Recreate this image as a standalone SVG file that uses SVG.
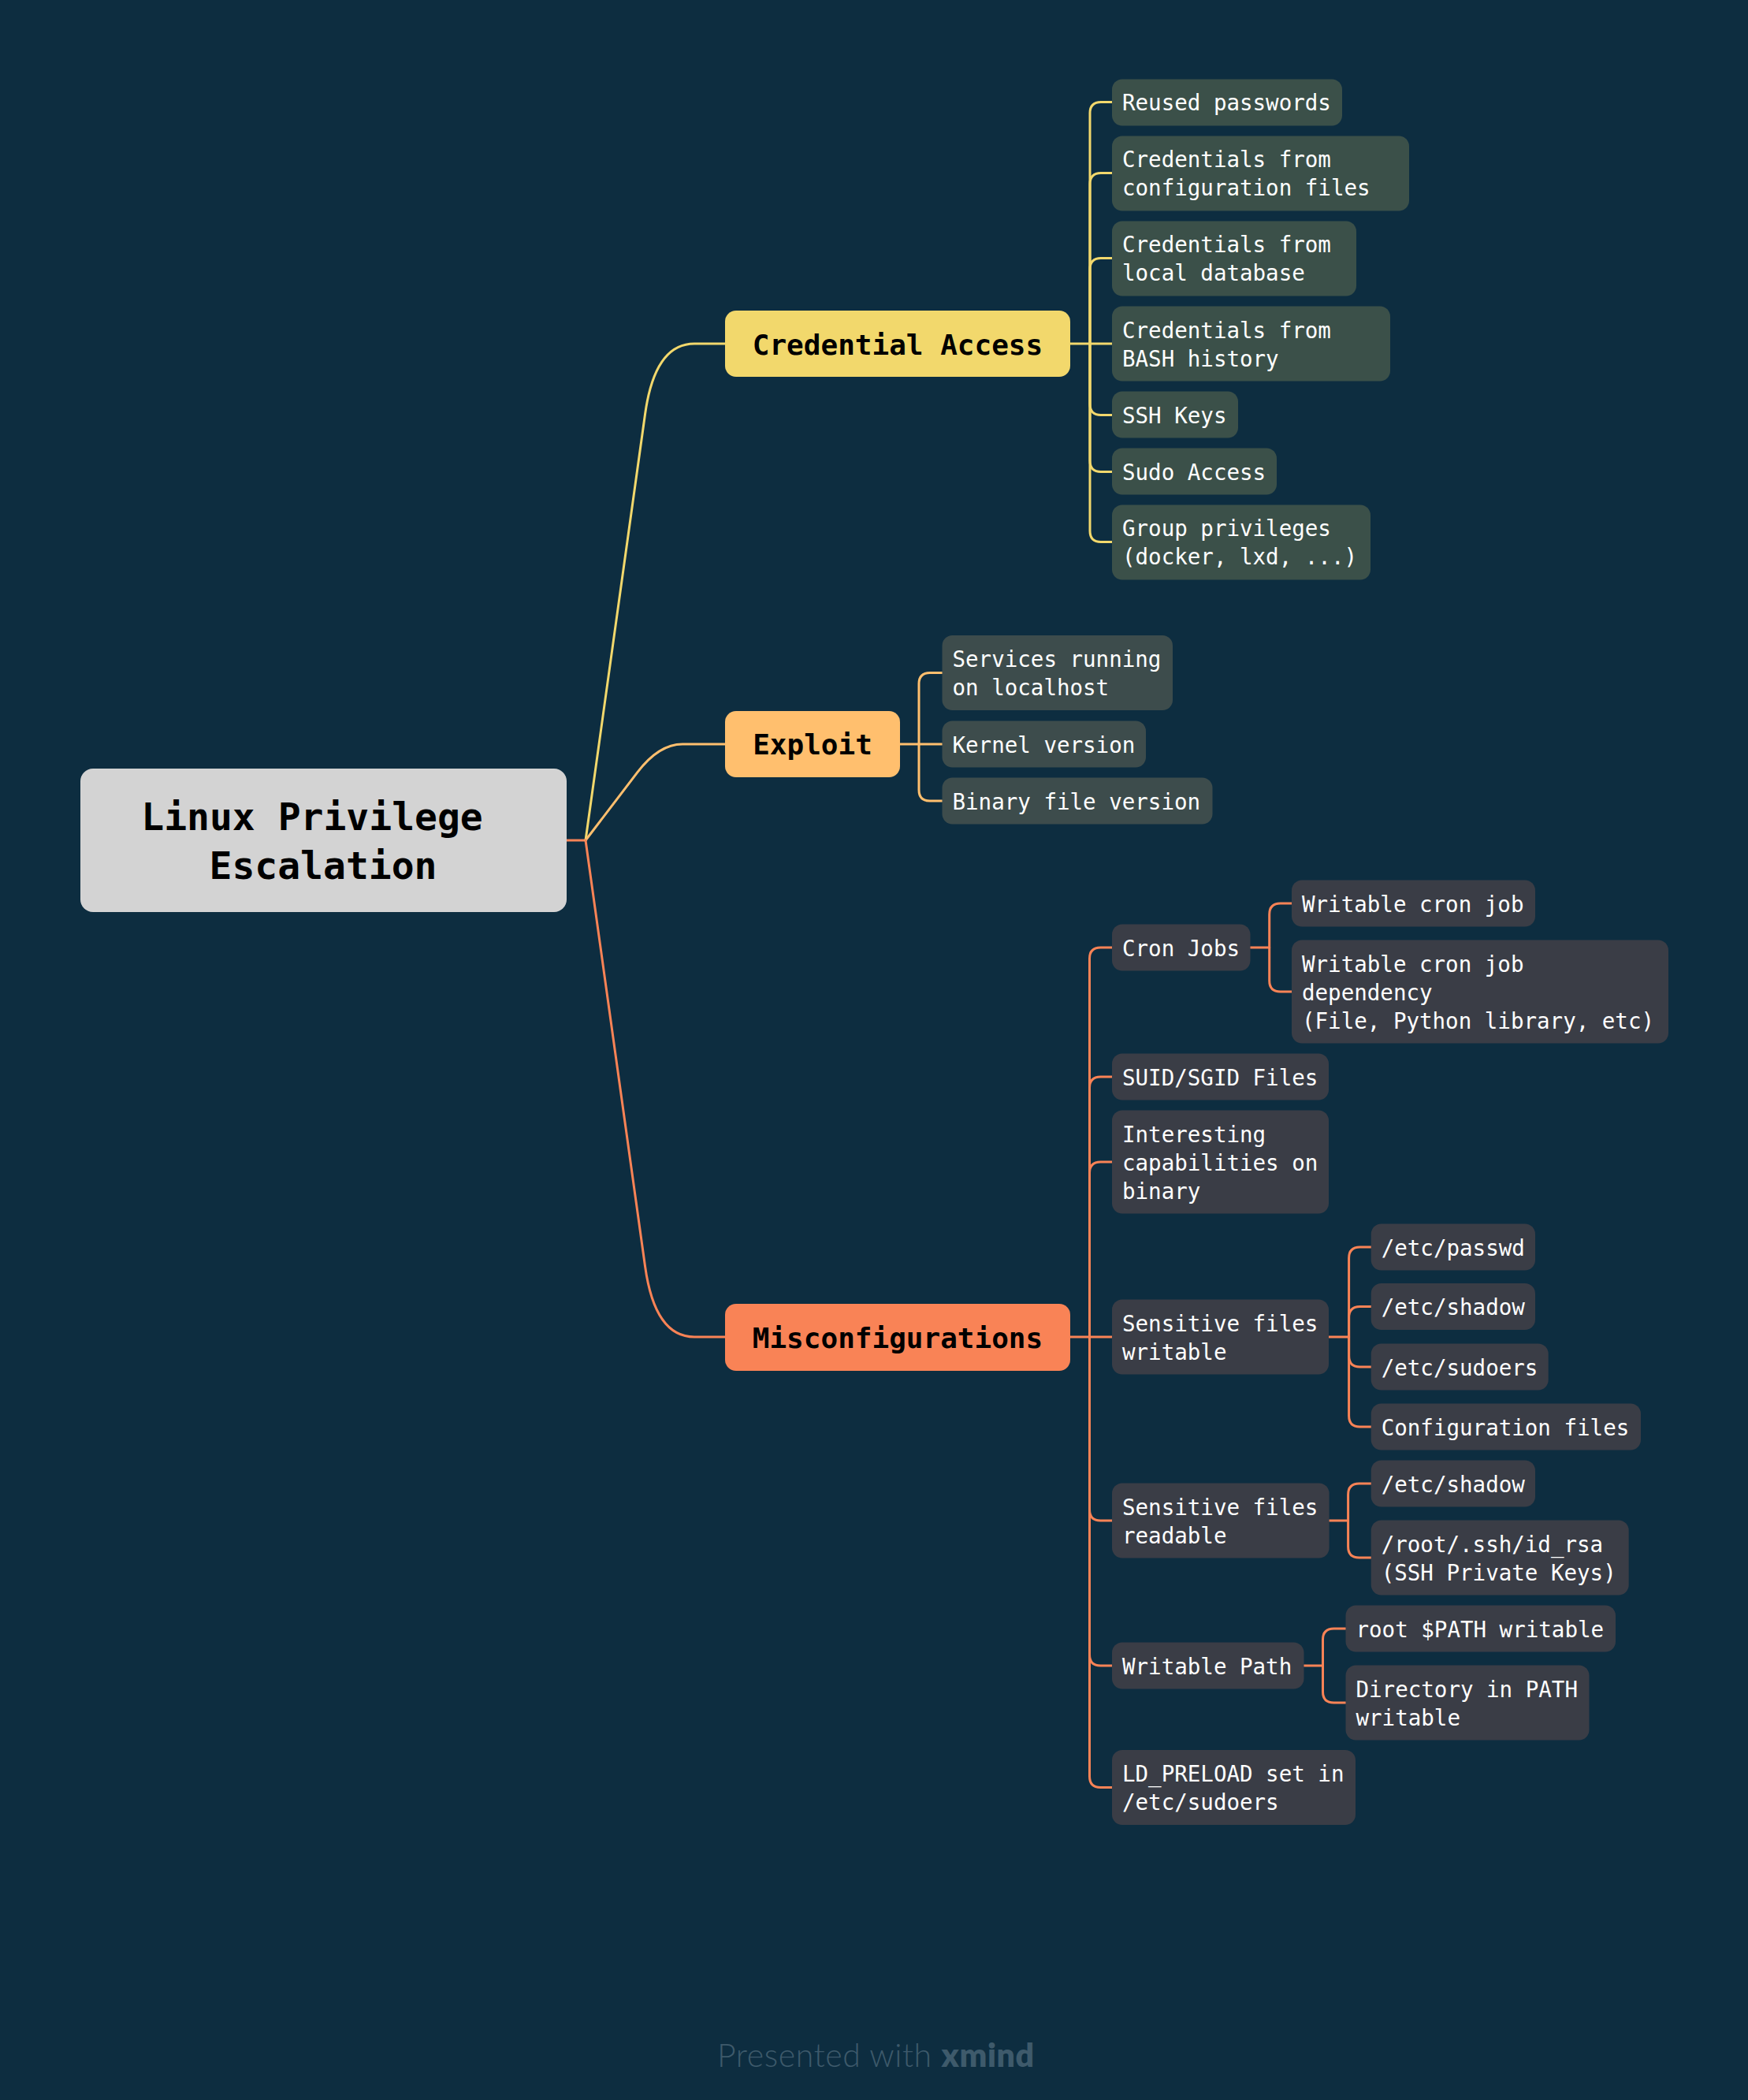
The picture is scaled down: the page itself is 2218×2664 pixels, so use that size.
<svg xmlns="http://www.w3.org/2000/svg" width="2218" height="2664" viewBox="0 0 2218 2664">
<style>
.bg{fill:#0D2D40}
.c{fill:none;stroke-width:3;stroke-linecap:round;stroke-linejoin:round}
.y{stroke:#F2D86C}.o{stroke:#FFBF6E}.r{stroke:#F98356}
.t{font-family:"DejaVu Sans Mono","Liberation Mono",monospace;font-size:27.5px;fill:#FFFFFF}
.m{font-family:"DejaVu Sans Mono","Liberation Mono",monospace;font-weight:bold;fill:#000000;text-anchor:middle}
.cy{fill:#3B5049}.co{fill:#3D4C4C}.cr{fill:#3A3D46}
</style>
<rect class="bg" x="0" y="0" width="2218" height="2664"/>
<g id="connectors">
<path class="c r" d="M719 1066 H743"/>
<path class="c y" d="M743 1066 L818.6 525 Q831 436 881 436 L920 436"/>
<path class="c o" d="M743 1066 L808.7 979.9 Q836 944 866 944 L920 944"/>
<path class="c r" d="M743 1066 L818.6 1606.8 Q831 1696 881 1696 L920 1696"/>
<g class="c y">
<path d="M1358 436 H1411"/>
<path d="M1383 436 V143.5 Q1383 129.5 1397 129.5 H1411"/>
<path d="M1383 436 V233.5 Q1383 219.5 1397 219.5 H1411"/>
<path d="M1383 436 V341.5 Q1383 327.5 1397 327.5 H1411"/>
<path d="M1383 436 V512.5 Q1383 526.5 1397 526.5 H1411"/>
<path d="M1383 436 V584.5 Q1383 598.5 1397 598.5 H1411"/>
<path d="M1383 436 V673.5 Q1383 687.5 1397 687.5 H1411"/>
</g>
<g class="c o">
<path d="M1142 944 H1195.5"/>
<path d="M1166 944 V867.5 Q1166 853.5 1180 853.5 H1195.5"/>
<path d="M1166 944 V1002 Q1166 1016 1180 1016 H1195.5"/>
</g>
<g class="c r">
<path d="M1358 1696 H1411"/>
<path d="M1382.5 1696 V1216 Q1382.5 1202 1396.5 1202 H1411"/>
<path d="M1382.5 1696 V1380 Q1382.5 1366 1396.5 1366 H1411"/>
<path d="M1382.5 1696 V1488 Q1382.5 1474 1396.5 1474 H1411"/>
<path d="M1382.5 1696 V1915 Q1382.5 1929 1396.5 1929 H1411"/>
<path d="M1382.5 1696 V2099 Q1382.5 2113 1396.5 2113 H1411"/>
<path d="M1382.5 1696 V2253.5 Q1382.5 2267.5 1396.5 2267.5 H1411"/>
<path d="M1586.5 1202 H1610.7"/>
<path d="M1610.7 1202 V1160 Q1610.7 1146 1624.7 1146 H1639"/>
<path d="M1610.7 1202 V1244 Q1610.7 1258 1624.7 1258 H1639"/>
<path d="M1686 1696 H1711.6"/>
<path d="M1711.6 1696 V1596 Q1711.6 1582 1725.6 1582 H1739.7"/>
<path d="M1711.6 1696 V1671.5 Q1711.6 1657.5 1725.6 1657.5 H1739.7"/>
<path d="M1711.6 1696 V1720 Q1711.6 1734 1725.6 1734 H1739.7"/>
<path d="M1711.6 1696 V1796 Q1711.6 1810 1725.6 1810 H1739.7"/>
<path d="M1686.6 1929 H1710.6"/>
<path d="M1710.6 1929 V1896 Q1710.6 1882 1724.6 1882 H1739.7"/>
<path d="M1710.6 1929 V1962 Q1710.6 1976 1724.6 1976 H1739.7"/>
<path d="M1654.5 2113 H1678.5"/>
<path d="M1678.5 2113 V2080 Q1678.5 2066 1692.5 2066 H1707.5"/>
<path d="M1678.5 2113 V2146 Q1678.5 2160 1692.5 2160 H1707.5"/>
</g>
</g>
<g id="root">
<rect x="102" y="975" width="617" height="182" rx="16" fill="#D3D3D3"/>
<text class="m" font-size="48" x="396" y="1053">Linux Privilege</text>
<text class="m" font-size="48" x="410" y="1115">Escalation</text>
</g>
<g id="credential-access">
<rect x="920" y="394" width="438" height="84" rx="14" fill="#F2D86C"/>
<text class="m" font-size="36" x="1139" y="450">Credential Access</text>
</g>
<g id="exploit">
<rect x="920" y="902" width="222" height="84" rx="14" fill="#FFBF6E"/>
<text class="m" font-size="36" x="1031" y="957">Exploit</text>
</g>
<g id="misconfigurations">
<rect x="920" y="1654" width="438" height="85" rx="14" fill="#F98356"/>
<text class="m" font-size="36" x="1139" y="1710">Misconfigurations</text>
</g>
<g id="reused-passwords"><rect class="cy" x="1411" y="100.5" width="292" height="59" rx="13"/><text class="t" x="1424" y="140">Reused passwords</text></g>
<g id="cred-config"><rect class="cy" x="1411" y="172.5" width="377" height="95" rx="13"/><text class="t" x="1424" y="212">Credentials from</text><text class="t" x="1424" y="248">configuration files</text></g>
<g id="cred-localdb"><rect class="cy" x="1411" y="280.5" width="310" height="95" rx="13"/><text class="t" x="1424" y="320">Credentials from</text><text class="t" x="1424" y="356">local database</text></g>
<g id="cred-bash"><rect class="cy" x="1411" y="388.5" width="353" height="95" rx="13"/><text class="t" x="1424" y="428.5">Credentials from</text><text class="t" x="1424" y="464.5">BASH history</text></g>
<g id="ssh-keys"><rect class="cy" x="1411" y="496.5" width="160" height="59" rx="13"/><text class="t" x="1424" y="537">SSH Keys</text></g>
<g id="sudo-access"><rect class="cy" x="1411" y="568.5" width="209" height="59" rx="13"/><text class="t" x="1424" y="609">Sudo Access</text></g>
<g id="group-privileges"><rect class="cy" x="1411" y="640.5" width="328" height="95" rx="13"/><text class="t" x="1424" y="680">Group privileges</text><text class="t" x="1424" y="716">(docker, lxd, ...)</text></g>
<g id="services-localhost"><rect class="co" x="1195.5" y="806" width="292.5" height="95" rx="13"/><text class="t" x="1208.5" y="846">Services running</text><text class="t" x="1208.5" y="882">on localhost</text></g>
<g id="kernel-version"><rect class="co" x="1195.5" y="914.5" width="258.5" height="59" rx="13"/><text class="t" x="1208.5" y="954.5">Kernel version</text></g>
<g id="binary-version"><rect class="co" x="1195.5" y="986.5" width="343" height="59" rx="13"/><text class="t" x="1208.5" y="1026.5">Binary file version</text></g>
<g id="cron-jobs"><rect class="cr" x="1411" y="1172.5" width="175.5" height="59" rx="13"/><text class="t" x="1424" y="1212.5">Cron Jobs</text></g>
<g id="writable-cron-job"><rect class="cr" x="1639" y="1116.5" width="309" height="59" rx="13"/><text class="t" x="1652" y="1156.5">Writable cron job</text></g>
<g id="cron-dependency"><rect class="cr" x="1639" y="1192.5" width="478" height="131" rx="13"/><text class="t" x="1652" y="1232.5">Writable cron job</text><text class="t" x="1652" y="1268.5">dependency</text><text class="t" x="1652" y="1304.5">(File, Python library, etc)</text></g>
<g id="suid-sgid"><rect class="cr" x="1411" y="1336.5" width="275" height="59" rx="13"/><text class="t" x="1424" y="1376.5">SUID/SGID Files</text></g>
<g id="capabilities"><rect class="cr" x="1411" y="1408.5" width="275" height="131" rx="13"/><text class="t" x="1424" y="1448.5">Interesting</text><text class="t" x="1424" y="1484.5">capabilities on</text><text class="t" x="1424" y="1520.5">binary</text></g>
<g id="sensitive-writable"><rect class="cr" x="1411" y="1648.5" width="275" height="95" rx="13"/><text class="t" x="1424" y="1688.5">Sensitive files</text><text class="t" x="1424" y="1724.5">writable</text></g>
<g id="w-passwd"><rect class="cr" x="1739.7" y="1552.5" width="208.3" height="59" rx="13"/><text class="t" x="1752.7" y="1592.5">/etc/passwd</text></g>
<g id="w-shadow"><rect class="cr" x="1739.7" y="1628" width="208.3" height="59" rx="13"/><text class="t" x="1752.7" y="1668">/etc/shadow</text></g>
<g id="w-sudoers"><rect class="cr" x="1739.7" y="1704.5" width="225" height="59" rx="13"/><text class="t" x="1752.7" y="1744.5">/etc/sudoers</text></g>
<g id="w-config"><rect class="cr" x="1739.7" y="1780.5" width="342.3" height="59" rx="13"/><text class="t" x="1752.7" y="1820.5">Configuration files</text></g>
<g id="sensitive-readable"><rect class="cr" x="1411" y="1881.5" width="275.6" height="95" rx="13"/><text class="t" x="1424" y="1921.5">Sensitive files</text><text class="t" x="1424" y="1957.5">readable</text></g>
<g id="r-shadow"><rect class="cr" x="1739.7" y="1852.5" width="208.3" height="59" rx="13"/><text class="t" x="1752.7" y="1892.5">/etc/shadow</text></g>
<g id="r-idrsa"><rect class="cr" x="1739.7" y="1928.5" width="327" height="95" rx="13"/><text class="t" x="1752.7" y="1968.5">/root/.ssh/id_rsa</text><text class="t" x="1752.7" y="2004.5">(SSH Private Keys)</text></g>
<g id="writable-path"><rect class="cr" x="1411" y="2083.5" width="243.5" height="59" rx="13"/><text class="t" x="1424" y="2123.5">Writable Path</text></g>
<g id="root-path"><rect class="cr" x="1707.5" y="2036.5" width="342.5" height="59" rx="13"/><text class="t" x="1720.5" y="2076.5">root $PATH writable</text></g>
<g id="dir-in-path"><rect class="cr" x="1707.5" y="2112.5" width="309" height="95" rx="13"/><text class="t" x="1720.5" y="2152.5">Directory in PATH</text><text class="t" x="1720.5" y="2188.5">writable</text></g>
<g id="ld-preload"><rect class="cr" x="1411" y="2220" width="309" height="95" rx="13"/><text class="t" x="1424" y="2260">LD_PRELOAD set in</text><text class="t" x="1424" y="2296">/etc/sudoers</text></g>
<text x="910" y="2622" font-family="Lato,'Open Sans',sans-serif" font-size="41" letter-spacing="0.6" fill="#3E5A6B"><tspan font-weight="300">Presented with </tspan><tspan font-weight="800">xmind</tspan></text>
</svg>
